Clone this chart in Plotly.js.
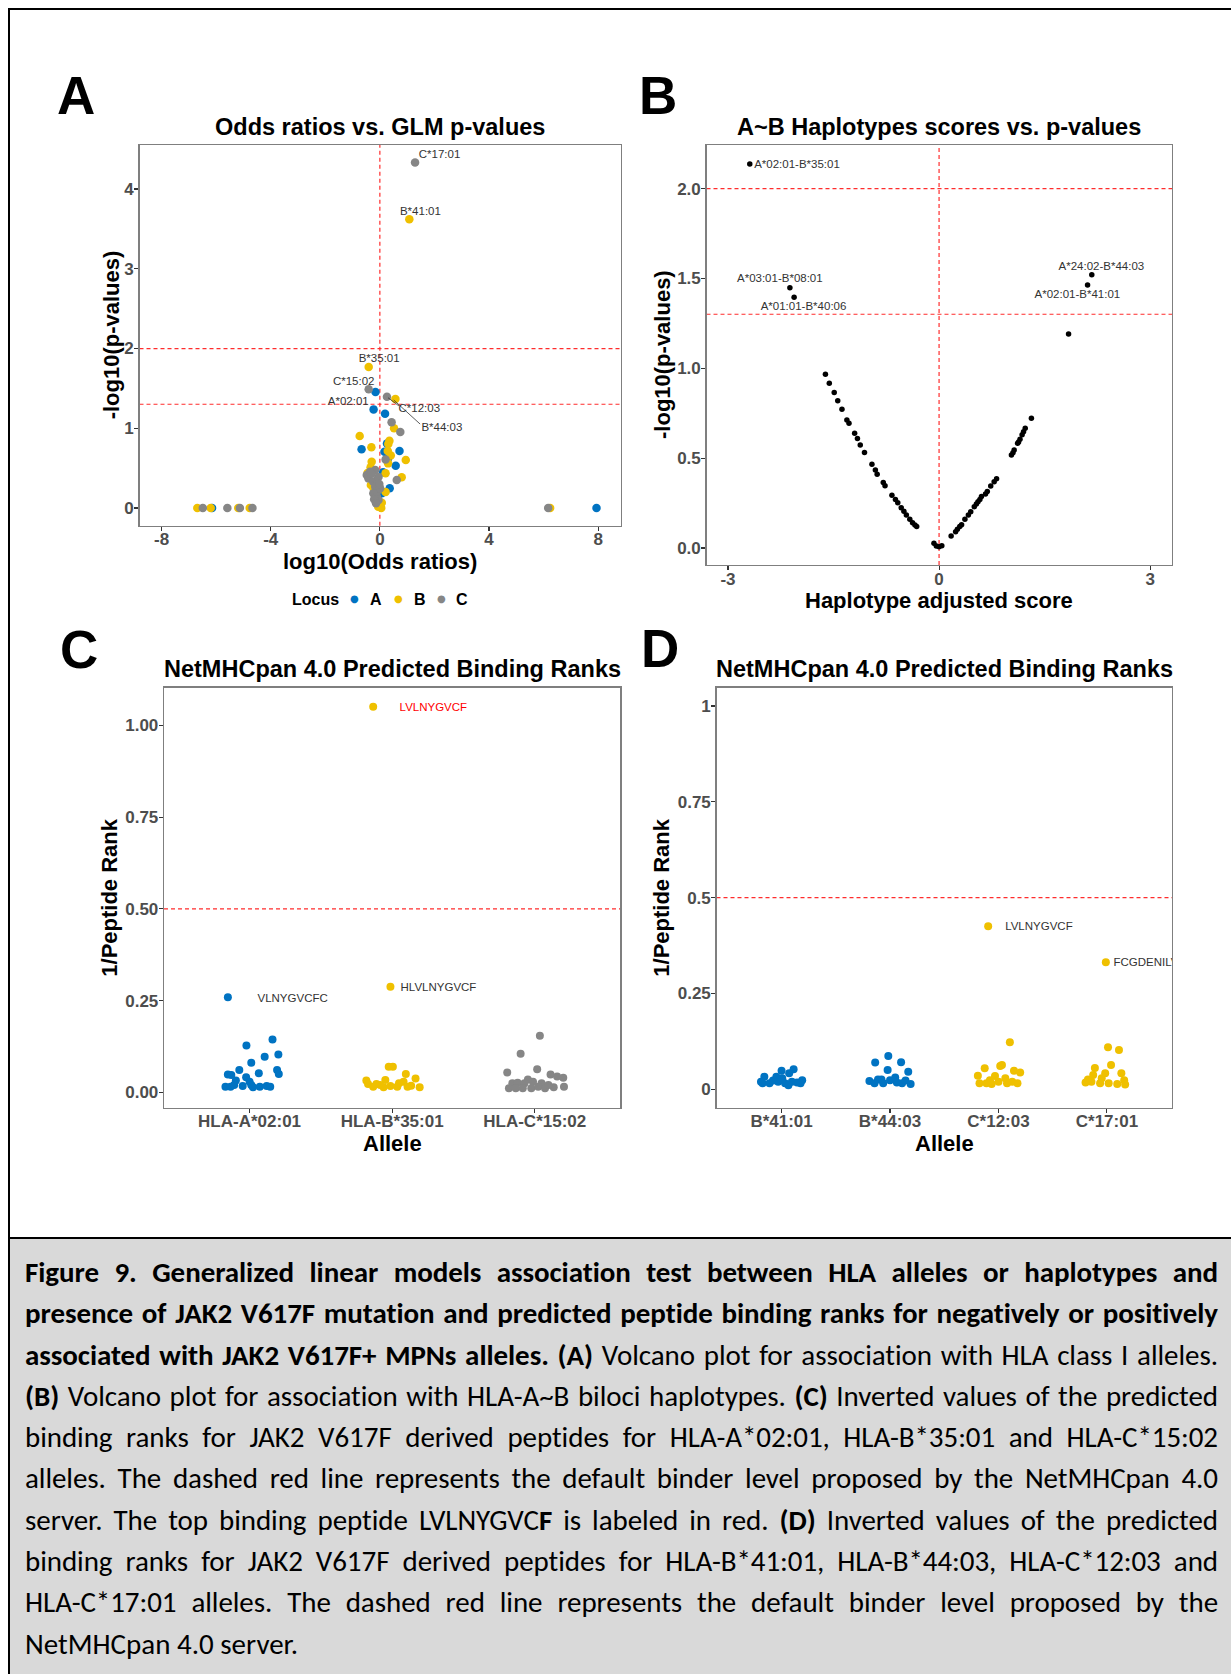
<!DOCTYPE html>
<html><head><meta charset="utf-8">
<script src="https://cdn.plot.ly/plotly-3.0.1.min.js"></script>
<style>
html,body{margin:0;padding:0;background:#fff;}
#wrap{position:relative;width:1231px;height:1674px;overflow:hidden;background:#fff;}
#chart{position:absolute;left:0;top:0;width:1231px;height:1674px;}
#frame{position:absolute;left:8px;top:8px;width:1300px;height:1700px;border-left:2.5px solid #000;border-top:2.5px solid #000;pointer-events:none;}
#caption{position:absolute;left:10px;top:1237px;width:1221px;height:437px;background:#d9d9d9;border-top:2.5px solid #000;box-sizing:border-box;padding:13px 0 0 15px;font-family:Carlito,Calibri,Lato,"Liberation Sans",sans-serif;font-size:29px;color:#000;}
.ln{width:1193px;height:41.3px;line-height:41.3px;text-align:justify;text-align-last:justify;}
.ln.last{text-align:left;text-align-last:left;}
</style></head>
<body>
<div id="wrap">
<div id="chart"></div>
<div id="frame"></div>
<div id="caption">
<div class="ln"><span><b>Figure 9. Generalized linear models association test between HLA alleles or haplotypes and</b></span></div>
<div class="ln"><span><b>presence of JAK2 V617F mutation and predicted peptide binding ranks for negatively or positively</b></span></div>
<div class="ln"><span><b>associated with JAK2 V617F+ MPNs alleles. (A)</b> Volcano plot for association with HLA class I alleles.</span></div>
<div class="ln"><span><b>(B)</b> Volcano plot for association with HLA-A~B biloci haplotypes. <b>(C)</b> Inverted values of the predicted</span></div>
<div class="ln"><span>binding ranks for JAK2 V617F derived peptides for HLA-A*02:01, HLA-B*35:01 and HLA-C*15:02</span></div>
<div class="ln"><span>alleles. The dashed red line represents the default binder level proposed by the NetMHCpan 4.0</span></div>
<div class="ln"><span>server. The top binding peptide LVLNYGVC<b>F</b> is labeled in red. <b>(D)</b> Inverted values of the predicted</span></div>
<div class="ln"><span>binding ranks for JAK2 V617F derived peptides for HLA-B*41:01, HLA-B*44:03, HLA-C*12:03 and</span></div>
<div class="ln"><span>HLA-C*17:01 alleles. The dashed red line represents the default binder level proposed by the</span></div>
<div class="ln last"><span>NetMHCpan 4.0 server.</span></div>
</div>
</div>
<script>
// ---------- Panel A: alleles volcano (log10 OR vs -log10 p) ----------
const locusA_x = [-0.16, -0.23, 0.19, 0.26, 0.17, -0.67, 0.72, 0.58, 0.36, 0.07, 0.01, 0.12, -0.08, 0.30, 7.94, -6.15];
const locusA_y = [1.455, 1.237, 1.183, 0.81, 0.706, 0.736, 0.715, 0.531, 0.247, 0.184, 0.06, 0.45, 0.12, 0.62, 0.0, 0.0];
const locusB_x = [1.08, -0.41, 0.57, 0.52, -0.74, 0.35, 0.31, -0.31, 0.29, 0.95, 0.30, -0.30, -0.34, 0.21, 0.80, 0.21, -0.33, -0.06, 0.07, -0.45, -0.25, 0.40, 0.05, -6.69, -6.20, -5.19, -4.77, 6.24];
const locusB_y = [3.62, 1.768, 1.367, 0.999, 0.903, 0.844, 0.803, 0.761, 0.715, 0.602, 0.56, 0.58, 0.51, 0.435, 0.387, 0.20, 0.29, 0.016, 0.067, 0.44, 0.26, 0.66, 0.0, 0.0, 0.0, 0.0, 0.0, 0.0];
const locusC_x = [1.29, -0.41, 0.26, 0.43, 0.75, 0.21, 0.62, -0.48, -0.36, -0.17, -0.42, -0.24, -0.11, -0.17, -0.11, -0.24, -0.11, -0.05, -0.21, 0.01, -0.05, -0.14, -0.30, -0.02, -6.49, -5.59, -5.13, -4.67, 6.17];
const locusC_y = [4.334, 1.488, 1.396, 1.075, 0.953, 0.61, 0.351, 0.414, 0.456, 0.476, 0.372, 0.33, 0.351, 0.268, 0.205, 0.184, 0.142, 0.10, 0.109, 0.247, 0.39, 0.06, 0.43, 0.30, 0.0, 0.0, 0.0, 0.0, 0.0];
const alleleLabels = ['C*17:01', 'B*41:01', 'B*35:01', 'C*15:02', 'A*02:01', 'C*12:03', 'B*44:03'];
const alleleLabel_x = [2.187, 1.487, -0.025, -0.96, -1.159, 1.444, 2.274];
const alleleLabel_y = [4.422, 3.712, 1.868, 1.584, 1.333, 1.237, 1.007];
const locusNames = ['A', 'B', 'C'];

// ---------- Panel B: A~B haplotypes ----------
const hap_x = [-2.69, -2.12, -2.06, 2.17, 2.11, 1.84,
  -1.615, -1.56, -1.49, -1.44, -1.38, -1.31, -1.28, -1.2, -1.16, -1.12, -1.06, -0.954, -0.905, -0.88, -0.793, -0.768, -0.67, -0.62, -0.587, -0.538, -0.5, -0.465, -0.416, -0.377, -0.343, -0.318,
  -0.073, -0.039, 0.0, 0.039,
  0.171, 0.235, 0.26, 0.294, 0.32, 0.367, 0.416, 0.45, 0.5, 0.53, 0.553, 0.58, 0.602, 0.66, 0.685, 0.734, 0.783, 0.817,
  1.028, 1.05, 1.067, 1.116, 1.13, 1.15, 1.18, 1.2, 1.224, 1.312];
const hap_y = [2.137, 1.449, 1.395, 1.521, 1.464, 1.191,
  0.967, 0.917, 0.866, 0.82, 0.772, 0.712, 0.694, 0.638, 0.61, 0.573, 0.531, 0.466, 0.434, 0.41, 0.364, 0.347, 0.293, 0.27, 0.252, 0.224, 0.205, 0.184, 0.16, 0.141, 0.128, 0.119,
  0.026, 0.011, 0.007, 0.013,
  0.067, 0.091, 0.105, 0.119, 0.13, 0.16, 0.184, 0.202, 0.23, 0.245, 0.258, 0.27, 0.286, 0.30, 0.314, 0.345, 0.369, 0.386,
  0.518, 0.53, 0.545, 0.583, 0.59, 0.605, 0.63, 0.647, 0.666, 0.722];
const hapLabels = ['A*02:01-B*35:01', 'A*03:01-B*08:01', 'A*01:01-B*40:06', 'A*24:02-B*44:03', 'A*02:01-B*41:01'];
const hapLabel_x = [-2.019, -2.263, -1.926, 2.307, 1.965];
const hapLabel_y = [2.132, 1.497, 1.339, 1.566, 1.406];

// ---------- Panel C: NetMHCpan ranks ----------
const allelesC = ['HLA-A*02:01', 'HLA-B*35:01', 'HLA-C*15:02'];
const cA_y   = [0.259, 0.144, 0.128, 0.103, 0.097, 0.081, 0.061, 0.061, 0.052, 0.050, 0.049, 0.047, 0.032, 0.041, 0.029, 0.020, 0.015, 0.015, 0.017, 0.015, 0.017, 0.015, 0.014, 0.020];
const cA_jit = [-0.152, 0.161, -0.022, 0.202, 0.106, 0.012, -0.072, 0.193, 0.065, 0.205, -0.152, -0.128, -0.096, -0.024, 0.000, 0.012, -0.169, -0.133, -0.048, 0.072, 0.120, 0.145, 0.024, -0.108];
const cB_y   = [1.051, 0.288, 0.070, 0.070, 0.032, 0.023, 0.034, 0.050, 0.038, 0.029, 0.015, 0.014, 0.017, 0.015, 0.018, 0.014, 0.023, 0.025, 0.015, 0.020];
const cB_jit = [-0.133, -0.012, -0.024, 0.005, -0.181, -0.110, -0.048, 0.096, 0.164, 0.080, -0.133, -0.060, -0.012, 0.036, 0.133, 0.193, -0.169, 0.048, 0.108, -0.084];
const cC_y   = [0.154, 0.105, 0.063, 0.054, 0.049, 0.040, 0.035, 0.043, 0.025, 0.026, 0.025, 0.029, 0.025, 0.011, 0.011, 0.011, 0.011, 0.015, 0.011, 0.014, 0.015, 0.020];
const cC_jit = [0.036, -0.099, 0.017, -0.193, 0.111, 0.200, -0.048, 0.157, -0.157, -0.120, -0.072, -0.012, 0.048, -0.181, -0.133, -0.084, -0.024, 0.024, 0.072, 0.133, 0.205, 0.096];
const pepC = ['VLNYGVCFC', 'LVLNYGVCF', 'HLVLNYGVCF'];
const pepC_x = [0.302, 1.289, 1.325];
const pepC_y = [0.255, 1.048, 0.285];

// ---------- Panel D ----------
const allelesD = ['B*41:01', 'B*44:03', 'C*12:03', 'C*17:01'];
const d1_y   = [0.032, 0.048, 0.052, 0.041, 0.032, 0.023, 0.015, 0.015, 0.019, 0.015, 0.019, 0.017, 0.022, 0.028, 0.010, 0.015, 0.019];
const d1_jit = [-0.159, 0.000, 0.111, 0.070, -0.048, 0.190, -0.175, -0.111, -0.032, 0.032, 0.095, 0.143, -0.079, 0.006, 0.063, 0.175, -0.190];
const d2_y   = [0.086, 0.069, 0.070, 0.050, 0.045, 0.021, 0.025, 0.015, 0.023, 0.030, 0.015, 0.013, 0.025, 0.017, 0.015, 0.022];
const d2_jit = [-0.016, -0.137, 0.102, -0.022, 0.168, -0.190, -0.111, -0.063, 0.000, 0.048, 0.111, 0.190, -0.079, 0.063, -0.143, 0.143];
const d3_y   = [0.425, 0.122, 0.063, 0.060, 0.054, 0.048, 0.043, 0.035, 0.034, 0.023, 0.015, 0.015, 0.019, 0.015, 0.015, 0.028, 0.013, 0.019];
const d3_jit = [-0.095, 0.105, 0.032, 0.016, -0.127, 0.143, 0.200, -0.190, -0.032, -0.079, -0.175, -0.111, 0.000, 0.079, 0.175, 0.063, -0.063, 0.127];
const d4_y   = [0.331, 0.109, 0.102, 0.063, 0.055, 0.037, 0.041, 0.041, 0.017, 0.019, 0.015, 0.015, 0.013, 0.023, 0.012, 0.028, 0.025];
const d4_jit = [-0.010, 0.010, 0.111, 0.038, -0.111, -0.127, -0.016, 0.133, -0.197, -0.143, -0.063, 0.016, 0.095, 0.159, 0.168, -0.048, -0.175];
const pepD = ['LVLNYGVCF', 'FCGDENILV'];
const pepD_x = [2.373, 3.06];
const pepD_y = [0.424, 0.330];

// ---------- styling ----------
const W = 1231, H = 1674;
const FONT = '"Liberation Sans", Arial, Helvetica, sans-serif';
const colA = '#0073C2', colB = '#EFC000', colC = '#868686';
const locusColors = [colA, colB, colC];
const fx = p => p / W, fy = p => 1 - p / H;
const dom = (a, b) => [a / W, b / W];
const domY = (top, bot) => [1 - bot / H, 1 - top / H];

function axis(domain, range, tickvals, ticktext, anchor, isX) {
  return {
    domain: domain, range: range, tickmode: 'array', tickvals: tickvals, ticktext: ticktext,
    anchor: anchor, showgrid: false, zeroline: false, showline: true, mirror: true,
    linecolor: '#7F7F7F', linewidth: 1.3, ticks: 'outside', ticklen: 4, tickwidth: 1.1, tickcolor: '#333333',
    ticklabelstandoff: isX ? -6 : -3,
    tickfont: {family: FONT, size: 17, color: '#4D4D4D', weight: 'bold'}, fixedrange: true
  };
}
const add = (arr, k) => arr.map(v => v + k);

const traces = [];
const mk = (x, y, xa, ya, color, size) => ({type: 'scatter', mode: 'markers', x: x, y: y, xaxis: xa, yaxis: ya,
  marker: {color: color, size: size}, showlegend: false, hoverinfo: 'skip'});
const lab = (x, y, text, xa, ya, color, pos, clip) => ({type: 'scatter', mode: 'text', x: x, y: y, text: text,
  textposition: pos || 'middle center', xaxis: xa, yaxis: ya, textfont: {family: FONT, size: 11.5, color: color || '#333333'},
  showlegend: false, hoverinfo: 'skip', cliponaxis: !!clip});
// Panel A
traces.push(mk(locusA_x, locusA_y, 'x', 'y', colA, 8.5));
traces.push(mk(locusB_x, locusB_y, 'x', 'y', colB, 8.5));
traces.push(mk(locusC_x, locusC_y, 'x', 'y', colC, 8.5));
traces.push(lab(alleleLabel_x, alleleLabel_y, alleleLabels, 'x', 'y'));
// Panel B
traces.push(mk(hap_x, hap_y, 'x2', 'y2', '#000000', 5.5));
traces.push(lab(hapLabel_x, hapLabel_y, hapLabels, 'x2', 'y2'));
// Panel C
traces.push(mk(add(cA_jit, 0), cA_y, 'x3', 'y3', colA, 8));
traces.push(mk(add(cB_jit, 1), cB_y, 'x3', 'y3', colB, 8));
traces.push(mk(add(cC_jit, 2), cC_y, 'x3', 'y3', colC, 8));
traces.push(lab(pepC_x, pepC_y, pepC, 'x3', 'y3', ['#333333', '#FF0000', '#333333']));
// Panel D
traces.push(mk(add(d1_jit, 0), d1_y, 'x4', 'y4', colA, 8));
traces.push(mk(add(d2_jit, 1), d2_y, 'x4', 'y4', colA, 8));
traces.push(mk(add(d3_jit, 2), d3_y, 'x4', 'y4', colB, 8));
traces.push(mk(add(d4_jit, 3), d4_y, 'x4', 'y4', colB, 8));
traces.push(lab([pepD_x[0]], [pepD_y[0]], [pepD[0]], 'x4', 'y4'));
traces.push(lab([pepD_x[1]], [pepD_y[1]], [pepD[1]], 'x4', 'y4', '#333333', 'middle right', true));

// dashed reference lines
const dashLine = {color: '#FF2D2D', width: 1.2, dash: '4px,3px'};
function hline(xa, ya, y) { return {type: 'line', xref: xa + ' domain', yref: ya, x0: 0, x1: 1, y0: y, y1: y, line: dashLine, layer: 'below'}; }
function vline(xa, ya, x) { return {type: 'line', xref: xa, yref: ya + ' domain', x0: x, x1: x, y0: 0, y1: 1, line: dashLine, layer: 'below'}; }
const pThresh = -Math.log10(0.05);
const shapes = [
  vline('x', 'y', 0), hline('x', 'y', 2), hline('x', 'y', pThresh),
  vline('x2', 'y2', 0), hline('x2', 'y2', 2), hline('x2', 'y2', pThresh),
  hline('x3', 'y3', 0.5), hline('x4', 'y4', 0.5),
  {type: 'line', xref: 'x', yref: 'y', x0: 0.51, y0: 1.354, x1: 1.475, y1: 1.053, line: {color: '#333333', width: 0.8}},
  {type: 'line', xref: 'x', yref: 'y', x0: 0.30, y0: 1.383, x1: 0.70, y1: 1.28, line: {color: '#333333', width: 0.8}}
];

// pixel boxes of the four plot areas
const boxA = {l: 139.5, r: 620.5, t: 145, b: 525.7};
const boxB = {l: 706.5, r: 1172, t: 145, b: 565};
const boxC = {l: 164, r: 620.3, t: 687.7, b: 1107.7};
const boxD = {l: 716.5, r: 1172, t: 687.7, b: 1107.7};

const ann = [];
function txt(text, x, y, size, opts) {
  ann.push(Object.assign({text: text, x: fx(x), y: fy(y), xref: 'paper', yref: 'paper', showarrow: false,
    xanchor: 'center', yanchor: 'middle', font: {family: FONT, size: size, color: '#000000', weight: 'bold'}}, opts || {}));
}
// panel letters
txt('A', 76, 96, 53); txt('B', 658, 96, 53); txt('C', 79, 649, 53); txt('D', 660, 648, 53);
// titles
txt('Odds ratios vs. GLM p-values', (boxA.l + boxA.r) / 2, 127, 23.5);
txt('A~B Haplotypes scores vs. p-values', (boxB.l + boxB.r) / 2, 127, 23.5);
txt('NetMHCpan 4.0 Predicted Binding Ranks', (boxC.l + boxC.r) / 2, 669, 23.5);
txt('NetMHCpan 4.0 Predicted Binding Ranks', (boxD.l + boxD.r) / 2, 669, 23.5);
// axis titles
txt('log10(Odds ratios)', (boxA.l + boxA.r) / 2, 561, 22);
txt('-log10(p-values)', 111, (boxA.t + boxA.b) / 2, 22, {textangle: -90});
txt('Haplotype adjusted score', (boxB.l + boxB.r) / 2, 600, 22);
txt('-log10(p-values)', 662, (boxB.t + boxB.b) / 2, 22, {textangle: -90});
txt('Allele', (boxC.l + boxC.r) / 2, 1143, 22);
txt('1/Peptide Rank', 110, (boxC.t + boxC.b) / 2, 22, {textangle: -90});
txt('Allele', (boxD.l + boxD.r) / 2, 1143, 22);
txt('1/Peptide Rank', 662, (boxD.t + boxD.b) / 2, 22, {textangle: -90});
// legend for panel A (Locus)
txt('Locus', 315, 599, 16);
const dotX = [354.5, 398, 441], letX = [376, 419.6, 462.3];
locusNames.forEach((n, i) => {
  txt('\u25CF', dotX[i], 598.5, 10, {font: {family: 'DejaVu Sans, sans-serif', size: 10, color: locusColors[i]}});
  txt(n, letX[i], 599, 16);
});

const layout = {
  width: W, height: H, margin: {l: 0, r: 0, t: 0, b: 0},
  paper_bgcolor: 'rgba(0,0,0,0)', plot_bgcolor: '#ffffff',
  font: {family: FONT},
  showlegend: false,
  xaxis: axis(dom(boxA.l, boxA.r), [-8.81, 8.82], [-8, -4, 0, 4, 8], ['-8', '-4', '0', '4', '8'], 'y', true),
  yaxis: axis(domY(boxA.t, boxA.b), [-0.2215, 4.552], [0, 1, 2, 3, 4], ['0', '1', '2', '3', '4'], 'x', false),
  xaxis2: axis(dom(boxB.l, boxB.r), [-3.305, 3.31], [-3, 0, 3], ['-3', '0', '3'], 'y2', true),
  yaxis2: axis(domY(boxB.t, boxB.b), [-0.0946, 2.243], [0, 0.5, 1, 1.5, 2], ['0.0', '0.5', '1.0', '1.5', '2.0'], 'x2', false),
  xaxis3: axis(dom(boxC.l, boxC.r), [-0.6, 2.6], [0, 1, 2], allelesC, 'y3', true),
  yaxis3: axis(domY(boxC.t, boxC.b), [-0.0418, 1.1026], [0, 0.25, 0.5, 0.75, 1], ['0.00', '0.25', '0.50', '0.75', '1.00'], 'x3', false),
  xaxis4: axis(dom(boxD.l, boxD.r), [-0.6, 3.6], [0, 1, 2, 3], allelesD, 'y4', true),
  yaxis4: axis(domY(boxD.t, boxD.b), [-0.0487, 1.0479], [0, 0.25, 0.5, 0.75, 1], ['0', '0.25', '0.5', '0.75', '1'], 'x4', false),
  shapes: shapes, annotations: ann
};

Plotly.newPlot('chart', traces, layout, {displayModeBar: false, staticPlot: true});

// fit caption lines into the justified width
function fitCaption() {
  const lines = document.querySelectorAll('#caption .ln');
  const avail = 1193;
  lines.forEach(div => {
    const span = div.firstElementChild;
    div.style.whiteSpace = 'nowrap';
    const w = span.getBoundingClientRect().width;
    if (w > avail - 4) {
      const n = span.textContent.length;
      span.style.letterSpacing = (-(w - avail + 6) / n).toFixed(3) + 'px';
    }
    div.style.whiteSpace = 'normal';
  });
}
if (document.fonts && document.fonts.ready) { document.fonts.ready.then(fitCaption); } else { fitCaption(); }
</script>
</body></html>
